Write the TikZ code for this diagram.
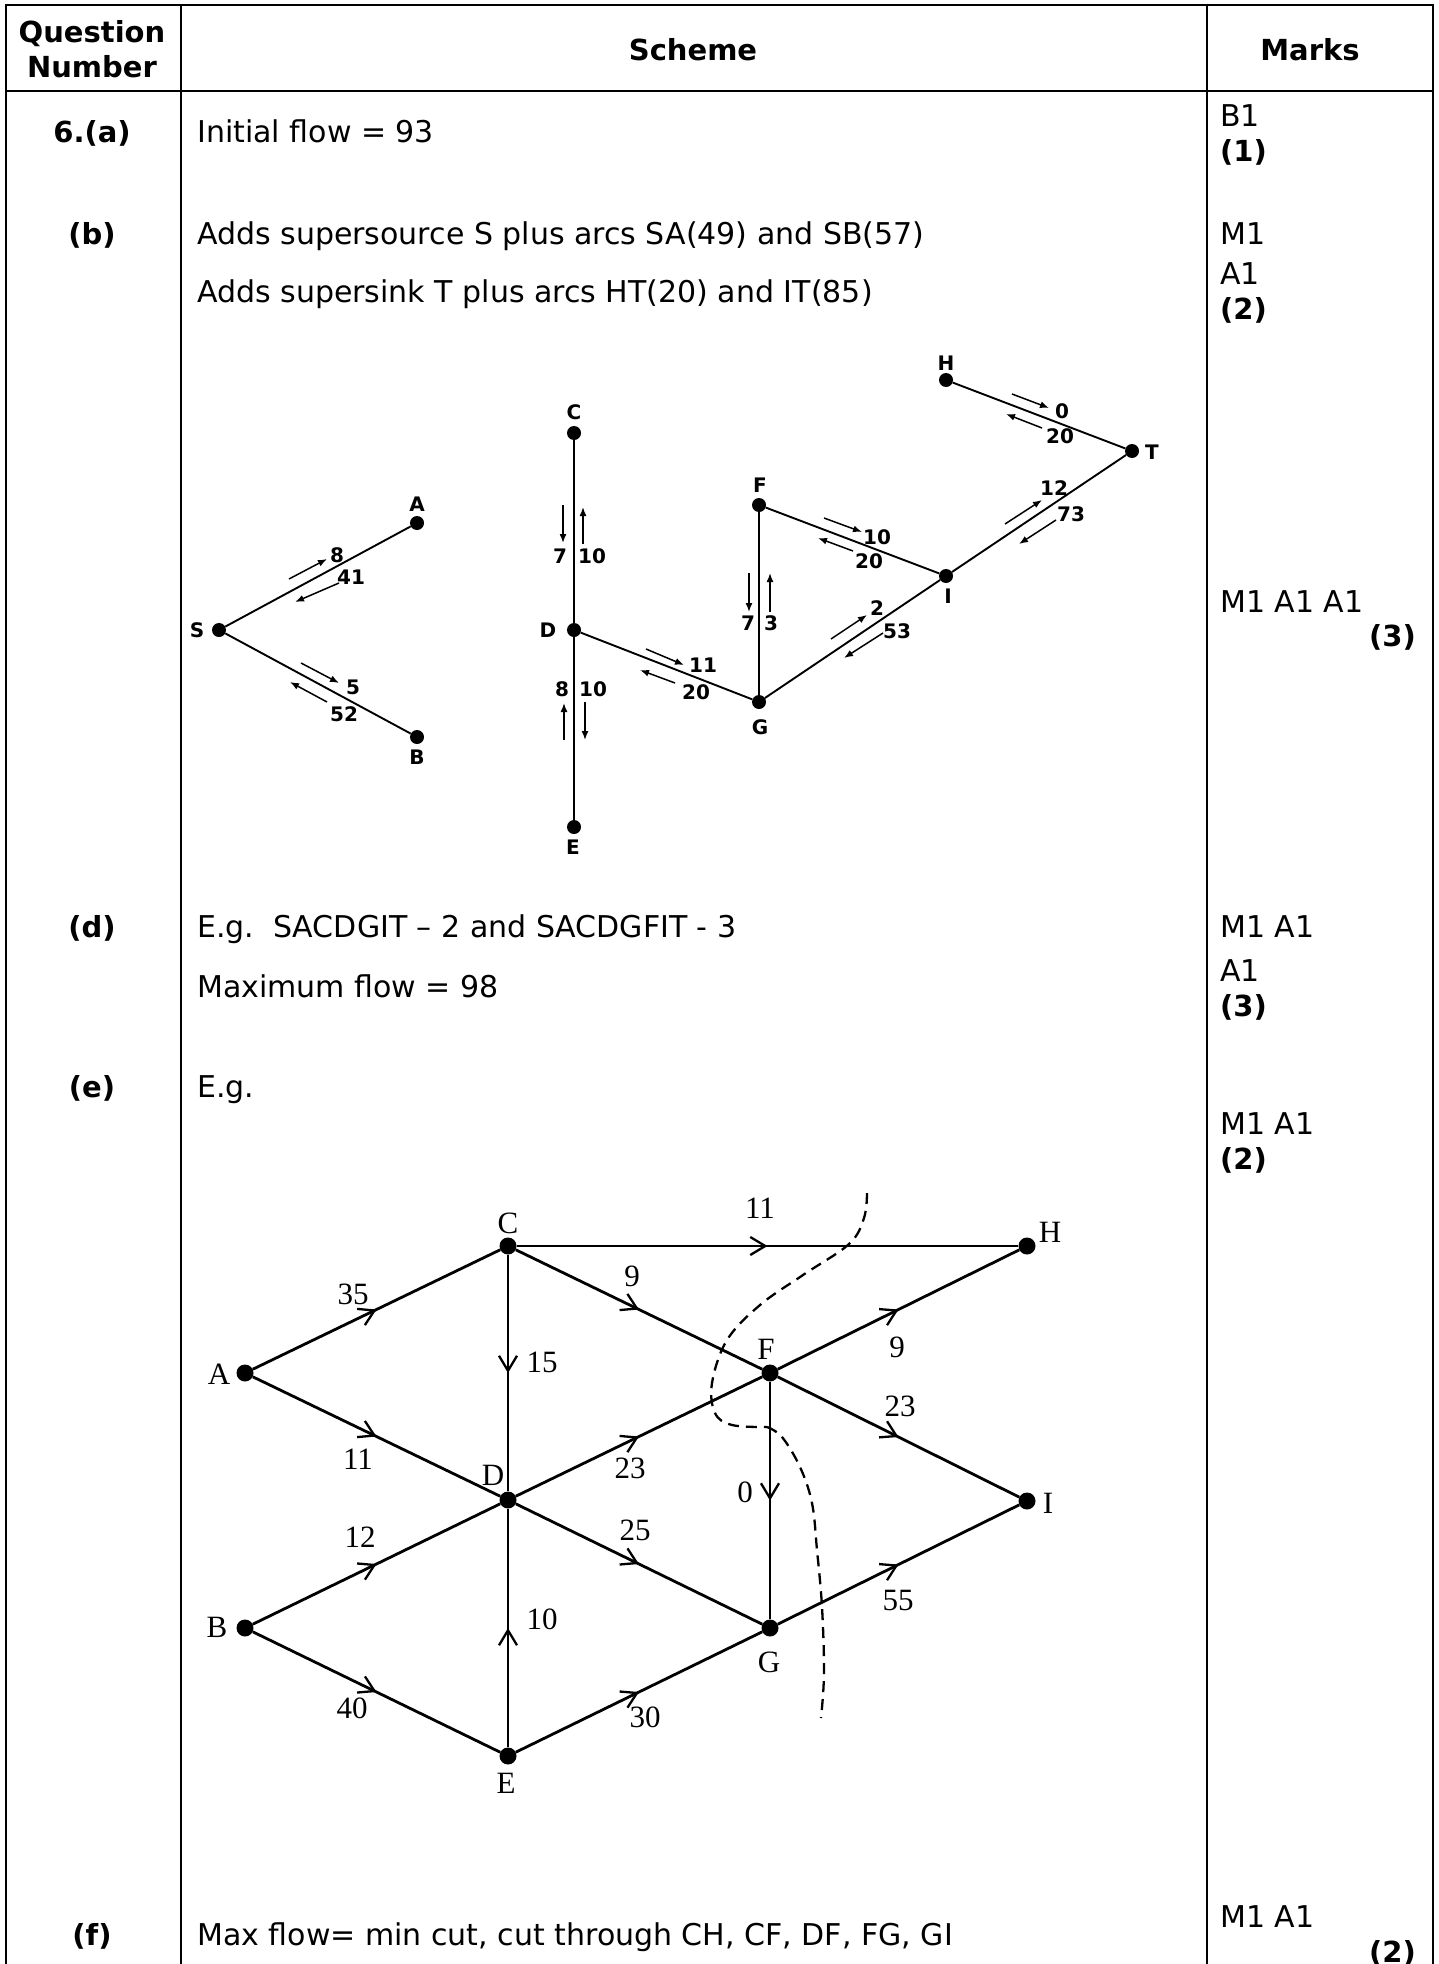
\documentclass[tikz,border=0pt]{standalone}
\usepackage{fontspec}
\setmainfont{DejaVu Sans}
\newfontfamily\gserif{Liberation Serif}
\usetikzlibrary{arrows.meta,decorations.markings}
\begin{document}
\begin{tikzpicture}[x=1pt,y=-1pt,
  txt/.style={font=\fontsize{30}{36}\selectfont, anchor=base west, inner sep=0pt},
  bld/.style={font=\fontsize{29}{35}\selectfont\bfseries, anchor=base, inner sep=0pt},
  mkb/.style={font=\fontsize{29}{35}\selectfont\bfseries, anchor=base west, inner sep=0pt},
  rule/.style={line width=2pt},
  dotA/.style={circle, fill=black, inner sep=0pt, minimum size=14pt},
  glab/.style={font=\fontsize{20}{23}\selectfont\bfseries, inner sep=0pt},
  edgeA/.style={line width=1.9pt},
  sarr/.style={line width=1.5pt, -{Latex[length=9pt,width=7pt]}},
  dotB/.style={circle, fill=black, inner sep=0pt, minimum size=17pt},
  slab/.style={font=\gserif\fontsize{31}{36}\selectfont, inner sep=0pt},
  edgeB/.style={line width=2.8pt, postaction={decorate},
    decoration={markings, mark=at position 0.5 with {\arrow{Straight Barb[length=15pt,width=18pt,line width=2.3pt]}}}},
  cutline/.style={line width=2.3pt, dash pattern=on 11pt off 7pt},
]
\useasboundingbox[fill=white] (0,0) rectangle (1439,1964);

% ---- table rules
\draw[rule] (5,5) -- (1434,5);
\draw[rule] (5,91) -- (1434,91);
\draw[rule] (6,4) -- (6,1964);
\draw[rule] (181,4) -- (181,1964);
\draw[rule] (1207,4) -- (1207,1964);
\draw[rule] (1433,4) -- (1433,1964);

% ---- header
\node[bld] (hq) at (92,43) {Question};
\node[bld] (hn) at (92,78) {Number};
\node[bld] (hs) at (693,61) {Scheme};
\node[bld] (hm) at (1310,61) {Marks};

% ---- rows
\node[bld] (qa) at (92,143) {6.(a)};
\node[txt] (ta) at (197,143) {Initial flow = 93};
\node[txt] (ma1) at (1220,127) {B1};
\node[mkb] (ma2) at (1220,162) {(1)};

\node[bld] (qb) at (92,244) {(b)};
\node[txt] (tb1) at (197,244) {Adds supersource S plus arcs SA(49) and SB(57)};
\node[txt] (tb2) at (197,302) {Adds supersink T plus arcs HT(20) and IT(85)};
\node[txt] (mb1) at (1220,244) {M1};
\node[txt] (mb2) at (1220,284) {A1};
\node[mkb] (mb3) at (1220,319) {(2)};

\node[txt] (mc1) at (1220,612) {M1 A1 A1};
\node[font=\fontsize{29}{35}\selectfont\bfseries, anchor=base east, inner sep=0pt] (mc2) at (1416,646) {(3)};

\node[bld] (qd) at (92,937) {(d)};
\node[txt] (td1) at (197,937) {E.g.\ \ SACDGIT – 2 and SACDGFIT - 3};
\node[txt] (td2) at (197,997) {Maximum flow = 98};
\node[txt] (md1) at (1220,937) {M1 A1};
\node[txt] (md2) at (1220,981) {A1};
\node[mkb] (md3) at (1220,1016) {(3)};

\node[bld] (qe) at (92,1097) {(e)};
\node[txt] (te) at (197,1097) {E.g.};
\node[txt] (me1) at (1220,1134) {M1 A1};
\node[mkb] (me2) at (1220,1169) {(2)};

\node[bld] (qf) at (92,1945) {(f)};
\node[txt] (tf) at (197,1945) {Max flow= min cut, cut through CH, CF, DF, FG, GI};
\node[txt] (mf1) at (1220,1927) {M1 A1};
\node[font=\fontsize{29}{35}\selectfont\bfseries, anchor=base east, inner sep=0pt] (mf2) at (1416,1962) {(2)};

% ---- graph 1 (residual network)
\node[dotA] (S) at (219,630) {};
\node[dotA] (A) at (417,523) {};
\node[dotA] (B) at (417,737) {};
\node[dotA] (C) at (574,433) {};
\node[dotA] (D) at (574,630) {};
\node[dotA] (E) at (574,827) {};
\node[dotA] (F) at (759,505) {};
\node[dotA] (G) at (759,702) {};
\node[dotA] (I) at (946,576) {};
\node[dotA] (H) at (946,380) {};
\node[dotA] (T) at (1132,451) {};

\draw[edgeA] (S) -- (A);
\draw[edgeA] (S) -- (B);
\draw[edgeA] (C) -- (D);
\draw[edgeA] (D) -- (E);
\draw[edgeA] (D) -- (G);
\draw[edgeA] (F) -- (G);
\draw[edgeA] (F) -- (I);
\draw[edgeA] (G) -- (I);
\draw[edgeA] (I) -- (T);
\draw[edgeA] (H) -- (T);

\node[glab] (lS) at (197,630) {S};
\node[glab] (lA) at (417,504) {A};
\node[glab] (lB) at (417,757) {B};
\node[glab] (lC) at (574,412) {C};
\node[glab] (lD) at (548,630) {D};
\node[glab] (lE) at (573,847) {E};
\node[glab] (lF) at (760,485) {F};
\node[glab] (lG) at (760,727) {G};
\node[glab] (lI) at (948,596) {I};
\node[glab] (lH) at (946,363) {H};
\node[glab] (lT) at (1152,452) {T};

% small flow arrows
\draw[sarr] (289,579) -- (327,559);
\draw[sarr] (339,583) -- (295,602);
\draw[sarr] (301,663) -- (339,683);
\draw[sarr] (327,702) -- (290,682);
\draw[sarr] (563,505) -- (563,543);
\draw[sarr] (583,544) -- (583,507);
\draw[sarr] (564,740) -- (564,703);
\draw[sarr] (585,702) -- (585,740);
\draw[sarr] (646,649) -- (684,665);
\draw[sarr] (675,683) -- (640,670);
\draw[sarr] (749,573) -- (749,612);
\draw[sarr] (770,612) -- (770,573);
\draw[sarr] (824,518) -- (862,532);
\draw[sarr] (853,551) -- (818,538);
\draw[sarr] (831,639) -- (867,615);
\draw[sarr] (883,633) -- (844,658);
\draw[sarr] (1005,524) -- (1042,500);
\draw[sarr] (1056,520) -- (1019,544);
\draw[sarr] (1012,394) -- (1049,408);
\draw[sarr] (1042,428) -- (1006,414);

\node[glab] (n1) at (337,555) {8};
\node[glab] (n2) at (351,577) {41};
\node[glab] (n3) at (353,687) {5};
\node[glab] (n4) at (344,714) {52};
\node[glab] (n5) at (560,556) {7};
\node[glab] (n6) at (592,556) {10};
\node[glab] (n7) at (562,689) {8};
\node[glab] (n8) at (593,689) {10};
\node[glab] (n9) at (703,665) {11};
\node[glab] (n10) at (696,692) {20};
\node[glab] (n11) at (748,623) {7};
\node[glab] (n12) at (771,623) {3};
\node[glab] (n13) at (877,537) {10};
\node[glab] (n14) at (869,561) {20};
\node[glab] (n15) at (877,608) {2};
\node[glab] (n16) at (897,631) {53};
\node[glab] (n17) at (1054,488) {12};
\node[glab] (n18) at (1071,514) {73};
\node[glab] (n19) at (1062,411) {0};
\node[glab] (n20) at (1060,436) {20};

% ---- graph 2 (flow network with cut)
\node[dotB] (gA) at (245,1373) {};
\node[dotB] (gB) at (245,1628) {};
\node[dotB] (gC) at (508,1246) {};
\node[dotB] (gD) at (508,1500) {};
\node[dotB] (gE) at (508,1756) {};
\node[dotB] (gF) at (770,1373) {};
\node[dotB] (gG) at (770,1628) {};
\node[dotB] (gH) at (1027,1246) {};
\node[dotB] (gI) at (1027,1501) {};

\draw[edgeB] (gA) -- (gC);
\draw[edgeB] (gA) -- (gD);
\draw[edgeB] (gC) -- (gD);
\draw[edgeB] (gC) -- (gH);
\draw[edgeB] (gC) -- (gF);
\draw[edgeB] (gB) -- (gD);
\draw[edgeB] (gB) -- (gE);
\draw[edgeB] (gE) -- (gD);
\draw[edgeB] (gD) -- (gF);
\draw[edgeB] (gD) -- (gG);
\draw[edgeB] (gF) -- (gG);
\draw[edgeB] (gE) -- (gG);
\draw[edgeB] (gF) -- (gH);
\draw[edgeB] (gF) -- (gI);
\draw[edgeB] (gG) -- (gI);

\node[slab] (sC) at (508,1223) {C};
\node[slab] (sA) at (219,1374) {A};
\node[slab] (sD) at (493,1475) {D};
\node[slab] (sB) at (217,1627) {B};
\node[slab] (sE) at (506,1783) {E};
\node[slab] (sF) at (766,1349) {F};
\node[slab] (sG) at (769,1662) {G};
\node[slab] (sH) at (1050,1232) {H};
\node[slab] (sI) at (1048,1503) {I};

\node[slab] (w1) at (353,1294) {35};
\node[slab] (w2) at (358,1459) {11};
\node[slab] (w3) at (542,1362) {15};
\node[slab] (w4) at (632,1276) {9};
\node[slab] (w5) at (630,1468) {23};
\node[slab] (w6) at (635,1530) {25};
\node[slab] (w7) at (360,1537) {12};
\node[slab] (w8) at (760,1208) {11};
\node[slab] (w9) at (897,1347) {9};
\node[slab] (w10) at (900,1406) {23};
\node[slab] (w11) at (745,1492) {0};
\node[slab] (w12) at (542,1619) {10};
\node[slab] (w13) at (352,1708) {40};
\node[slab] (w14) at (645,1717) {30};
\node[slab] (w15) at (898,1600) {55};

\draw[cutline] plot[smooth, tension=0.6] coordinates {(867,1193) (864,1218) (849,1244) (803,1275) (760,1305) (727,1340) (712,1383) (715,1413) (732,1425) (767,1427)};
\draw[cutline] plot[smooth, tension=0.6] coordinates {(767,1427) (782,1437) (800,1467) (812,1503) (817,1550) (822,1607) (824,1673) (821,1718)};
\end{tikzpicture}
\end{document}
